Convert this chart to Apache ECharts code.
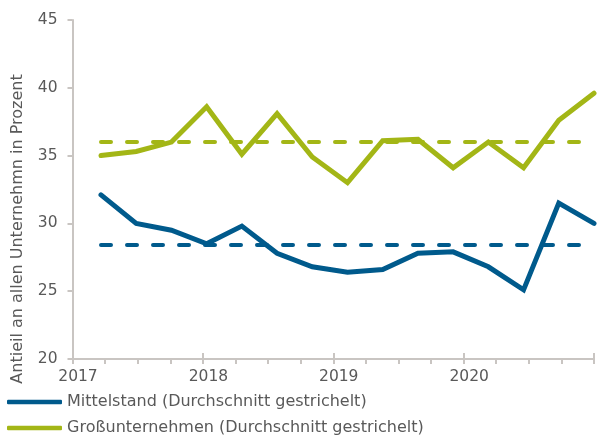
<!DOCTYPE html>
<html>
<head>
<meta charset="utf-8">
<script src="https://cdn.jsdelivr.net/npm/echarts@6/dist/echarts.min.js"></script>
<style>
html,body{margin:0;padding:0;background:#fff;}
#chart{width:597px;height:439px;}
</style>
</head>
<body>
<div id="chart"></div>
<script>
// Data
var quarters = ['2017Q1','2017Q2','2017Q3','2017Q4','2018Q1','2018Q2','2018Q3','2018Q4','2019Q1','2019Q2','2019Q3','2019Q4','2020Q1','2020Q2','2020Q3'];
var mittelstand = [32.1, 30.0, 29.5, 28.5, 29.8, 27.8, 26.8, 26.4, 26.6, 27.8, 27.9, 26.8, 25.1, 31.5, 30.0];
var grossunternehmen = [35.0, 35.3, 36.0, 38.6, 35.1, 38.1, 34.9, 33.0, 36.1, 36.2, 34.1, 36.0, 34.1, 37.6, 39.6];
var avgMittelstand = 28.45;
var avgGross = 36.0;
var yearTicks = [2017, 2018, 2019, 2020];
var seriesNames = ['Mittelstand (Durchschnitt gestrichelt)', 'Großunternehmen (Durchschnitt gestrichelt)'];
var yTitle = 'Antieil an allen Unternehmn in Prozent';

var BLUE = '#005a8c';
var GREEN = '#a3b616';
var AXIS = '#c9c5c2';
var TXT = '#595959';
var FONT = 'DejaVu Sans';

var chart = echarts.init(document.getElementById('chart'), null, {renderer: 'canvas'});

function legendFor(i, top) {
  return {
    orient: 'horizontal', left: 7, top: top, padding: 0,
    itemWidth: 55, itemHeight: 4.5,
    icon: 'roundRect',
    textStyle: {color: TXT, fontFamily: FONT, fontSize: 16},
    data: [seriesNames[i]]
  };
}

var option = {
  animation: false,
  backgroundColor: '#fff',
  textStyle: {fontFamily: FONT},
  grid: [
    {left: 72.5, top: 20, bottom: 80, right: -39.5, containLabel: false},
    {left: 101, top: 20, bottom: 80, right: 3, containLabel: false}
  ],
  xAxis: [
    {
      type: 'value', gridIndex: 0, position: 'bottom', min: yearTicks[0], max: yearTicks[yearTicks.length-1] + 1, interval: 1,
      axisLine: {show: true, lineStyle: {color: AXIS, width: 2}},
      axisTick: {show: true, length: 5, lineStyle: {color: AXIS, width: 2}},
      minorTick: {show: true, splitNumber: 4, length: 5, lineStyle: {color: AXIS, width: 2}},
      splitLine: {show: false},
      minorSplitLine: {show: false},
      axisLabel: {
        color: TXT, fontFamily: FONT, fontSize: 15.5, margin: 10, padding: [0,0,0,11],
        formatter: function (v) { return yearTicks.indexOf(v) >= 0 ? String(v) : ''; }
      }
    },
    {
      type: 'value', gridIndex: 0, position: 'bottom', offset: 0, min: yearTicks[0], max: yearTicks[yearTicks.length-1] + 1, interval: 1,
      axisLine: {show: false},
      axisTick: {show: true, inside: true, length: 6, lineStyle: {color: AXIS, width: 2}},
      splitLine: {show: false},
      axisLabel: {show: false}
    },
    {
      type: 'category', gridIndex: 1, data: quarters, boundaryGap: false, show: false
    }
  ],
  yAxis: [
    {
      type: 'value', gridIndex: 0, min: 20, max: 45, interval: 5,
      axisLine: {show: true, lineStyle: {color: AXIS, width: 2}},
      axisTick: {show: true, length: 5, lineStyle: {color: AXIS, width: 2}},
      splitLine: {show: false},
      axisLabel: {color: TXT, fontFamily: FONT, fontSize: 15.5, margin: 15}
    },
    {
      type: 'value', gridIndex: 1, min: 20, max: 45, interval: 5, show: false, splitLine: {show: false}
    }
  ],
  legend: [legendFor(0, 394), legendFor(1, 420)],
  graphic: [
    {
      type: 'text', x: 18, y: 229, rotation: Math.PI / 2,
      style: {text: yTitle, fill: TXT, font: '16px "DejaVu Sans"', align: 'center', verticalAlign: 'middle'}
    }
  ],
  series: [
    {
      name: seriesNames[0], type: 'line', xAxisIndex: 2, yAxisIndex: 1,
      data: mittelstand, showSymbol: false, symbol: 'none', color: BLUE,
      lineStyle: {color: BLUE, width: 5, cap: 'round', join: 'miter'},
      markLine: {
        silent: true, symbol: 'none', label: {show: false},
        lineStyle: {color: BLUE, width: 4, type: [10, 16], cap: 'round'},
        data: [{yAxis: avgMittelstand}]
      }
    },
    {
      name: seriesNames[1], type: 'line', xAxisIndex: 2, yAxisIndex: 1,
      data: grossunternehmen, showSymbol: false, symbol: 'none', color: GREEN,
      lineStyle: {color: GREEN, width: 5, cap: 'round', join: 'miter'},
      markLine: {
        silent: true, symbol: 'none', label: {show: false},
        lineStyle: {color: GREEN, width: 4, type: [10, 16], cap: 'round'},
        data: [{yAxis: avgGross}]
      }
    }
  ]
};
chart.setOption(option);
</script>
</body>
</html>
